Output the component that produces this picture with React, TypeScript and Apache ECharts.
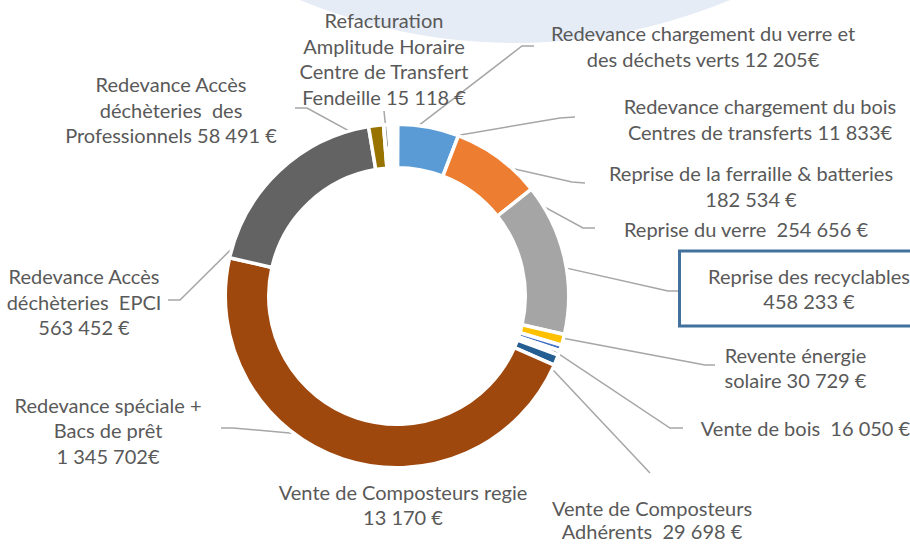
import React, { useEffect, useRef } from 'react';
import * as echarts from 'echarts';

// ---- data ----
const categories = [
  'Reprise de la ferraille & batteries',
  'Reprise du verre',
  'Reprise des recyclables',
  'Revente énergie solaire',
  'Vente de bois',
  'Vente de Composteurs regie',
  'Vente de Composteurs Adhérents',
  'Redevance spéciale + Bacs de prêt',
  'Redevance Accès déchèteries EPCI',
  'Redevance Accès déchèteries des Professionnels',
  'Refacturation Amplitude Horaire Centre de Transfert Fendeille',
  'Redevance chargement du verre et des déchets verts',
  'Redevance chargement du bois Centres de transferts',
];

// slice sizes as drawn in the picture (€)
const values = [173000, 254656, 429000, 30729, 16050, 13170, 29698, 1410000, 563452, 42000, 15118, 12205, 11833];

const labelTexts = [
  'Reprise de la ferraille & batteries\n182 534 €',
  'Reprise du verre  254 656 €',
  'Reprise des recyclables\n458 233 €',
  'Revente énergie\nsolaire 30 729 €',
  'Vente de bois  16 050 €',
  'Vente de Composteurs regie\n13 170 €',
  'Vente de Composteurs\nAdhérents  29 698 €',
  'Redevance spéciale +\nBacs de prêt\n1 345 702€',
  'Redevance Accès\ndéchèteries  EPCI\n563 452 €',
  'Redevance Accès\ndéchèteries  des\nProfessionnels 58 491 €',
  'Refacturation\nAmplitude Horaire\nCentre de Transfert\nFendeille 15 118 €',
  'Redevance chargement du verre et\ndes déchets verts 12 205€',
  'Redevance chargement du bois\nCentres de transferts 11 833€',
];

const NONE = 'rgba(0,0,0,0)';
const sliceColors = ['#5B9BD5', '#ED7D31', '#A5A5A5', '#FFC000', '#4472C4', NONE, '#255E91', '#9E480E', '#636363', '#997300', NONE, NONE, NONE];

// ---- layout ----
const CX = 397;
const CY = 296;
const BORDER = 3.5;
const R_IN = 130;
const R_OUT = 170;
const R_LEAD = 150;
const START_DEG = 0.2; // clockwise from 12 o'clock

const labelCenters: [number, number][] = [
  [751, 186],
  [746, 229],
  [809, 288.5],
  [795.5, 367.5],
  [805.5, 428],
  [403, 504.5],
  [652, 519.5],
  [108, 430],
  [84, 301.5],
  [171, 109.5],
  [384, 58.5],
  [703, 46],
  [760, 119],
];

const leaderEnds: [number, number][][] = [
  [[572, 182], [585, 183]],
  [[583, 228], [595, 228]],
  [[668, 291], [681, 291]],
  [[705, 365], [715, 365]],
  [[670, 428], [683, 428]],
  [[404, 458], [404, 458]],
  [[650, 473], [650, 473]],
  [[233, 428], [221, 428]],
  [[180, 300], [168, 300]],
  [[307, 108], [295, 108]],
  [[384, 111], [384, 111]],
  [[522, 46], [534, 46]],
  [[560, 118], [575, 117]],
];

const total = values.reduce((a, b) => a + b, 0);
const midAngles: number[] = [];
{
  let acc = START_DEG;
  values.forEach((v) => {
    const a = (v / total) * 360;
    midAngles.push(acc + a / 2);
    acc += a;
  });
}

function leaderTip(i: number, pts?: number[][]): number[] {
  if (pts && pts[0]) {
    const dx = pts[0][0] - CX;
    const dy = pts[0][1] - CY;
    const h = Math.hypot(dx, dy);
    if (h > 1) return [CX + (dx / h) * R_LEAD, CY + (dy / h) * R_LEAD];
  }
  const t = (midAngles[i] * Math.PI) / 180;
  return [CX + R_LEAD * Math.sin(t), CY - R_LEAD * Math.cos(t)];
}

export default function App() {
  const ref = useRef<HTMLDivElement>(null);
  useEffect(() => {
    if (!ref.current) return;
    const chart = echarts.init(ref.current, null, { renderer: 'svg' });
    chart.setOption({
      animation: false,
      backgroundColor: '#ffffff',
      graphic: [
        {
          type: 'circle',
          z: -10,
          silent: true,
          shape: { cx: 515, cy: -516, r: 559 },
          style: { fill: '#E5ECF6' },
        },
      ],
      series: [
        {
          type: 'pie',
          center: [CX, CY],
          radius: [R_IN - BORDER / 2, R_OUT + BORDER / 2],
          startAngle: 90 - START_DEG,
          clockwise: true,
          avoidLabelOverlap: false,
          emphasis: { disabled: true },
          itemStyle: { borderColor: '#ffffff', borderWidth: BORDER, borderJoin: 'round' },
          label: {
            show: true,
            position: 'outside',
            overflow: 'none',
            color: '#595959',
            fontFamily: 'Lato',
            fontSize: 20,
            lineHeight: 25.5,
            align: 'center',
            formatter: (p: any) => labelTexts[p.dataIndex],
          },
          labelLine: {
            show: true,
            showAbove: true,
            smooth: false,
            lineStyle: { color: '#A6A6A6', width: 1.5 },
          },
          labelLayout: (p: any) => {
            const i = p.dataIndex;
            const [lx, ly] = labelCenters[i];
            const tip = leaderTip(i, p.labelLinePoints);
            return {
              x: lx,
              y: ly,
              align: 'center',
              verticalAlign: 'middle',
              labelLinePoints: [tip, leaderEnds[i][0], leaderEnds[i][1]],
            };
          },
          data: values.map((v, i) => ({
            value: v,
            name: categories[i],
            itemStyle: { color: sliceColors[i] },
            label:
              i === 2
                ? {
                    backgroundColor: '#ffffff',
                    borderColor: '#41719C',
                    borderWidth: 3,
                    padding: [15, 13, 6, 13],
                    width: 230,
                  }
                : i === 6
                ? { lineHeight: 23 }
                : undefined,
          })),
        },
      ],
    });
    return () => chart.dispose();
  }, []);
  return (
    <div
      ref={ref}
      style={{ position: 'absolute', left: 0, top: 0, width: 910, height: 544, background: '#fff' }}
    />
  );
}
